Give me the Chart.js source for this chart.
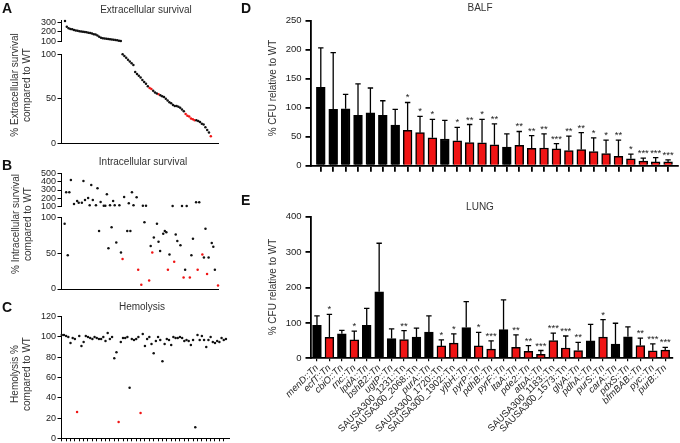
<!DOCTYPE html>
<html>
<head>
<meta charset="utf-8">
<script src="https://cdn.jsdelivr.net/npm/chart.js@4.4.1/dist/chart.umd.min.js"></script>
<style>
body{margin:0;background:#fff}
#fig{position:relative;width:680px;height:443px;overflow:hidden;background:#fff;font-family:"Liberation Sans",Arial,sans-serif;color:#333}
#fig canvas{position:absolute;left:0;top:0}
.t{position:absolute;white-space:nowrap;font-size:10px;line-height:12px;transform:translate(-50%,-50%)}
.v{transform:translate(-50%,-50%) rotate(-90deg);text-align:center}
.p{position:absolute;font-weight:bold;font-size:14px;line-height:14px;color:#111}
</style>
</head>
<body>
<div id="fig">
<canvas id="aTop" width="680" height="443"></canvas>
<canvas id="aBot" width="680" height="443"></canvas>
<canvas id="bTop" width="680" height="443"></canvas>
<canvas id="bBot" width="680" height="443"></canvas>
<canvas id="cHem" width="680" height="443"></canvas>
<canvas id="dBalf" width="680" height="443"></canvas>
<canvas id="eLung" width="680" height="443"></canvas>

<div class="p" style="left:2px;top:1px">A</div>
<div class="p" style="left:2px;top:158px">B</div>
<div class="p" style="left:2px;top:300px">C</div>
<div class="p" style="left:241px;top:1px">D</div>
<div class="p" style="left:241px;top:193px">E</div>

<div class="t" style="left:146px;top:10px">Extracellular survival</div>
<div class="t" style="left:143px;top:162px">Intracellular survival</div>
<div class="t" style="left:142px;top:307px">Hemolysis</div>
<div class="t" style="left:480px;top:8px">BALF</div>
<div class="t" style="left:480px;top:207px">LUNG</div>

<div class="t v" style="left:21px;top:85px">% Extracellular survival<br>compared to WT</div>
<div class="t v" style="left:22px;top:224px">% Intracellular survival<br>compared to WT</div>
<div class="t v" style="left:21px;top:374px">Hemolysis %<br>compared to WT</div>
<div class="t v" style="left:273px;top:88px">% CFU relative to WT</div>
<div class="t v" style="left:273px;top:287px">% CFU relative to WT</div>
</div>

<script>
// A: extracellular survival, mutants ranked high -> low
var extraSurvival = [318, 257, 240, 232, 228, 222, 216, 212, 208, 205, 202, 199, 196, 192, 188, 183,
    177, 172, 162, 148, 138, 134, 130, 127, 124, 121, 119, 116, 113, 110, 107, 104,
    100, 98, 96, 94, 92, 90, 88, 80, 78, 76, 74, 71, 69, 67, 64, 62, 61, 59, 57, 56, 55,
    54, 53, 52, 50, 48, 46, 45, 43, 42, 42, 41, 40, 38, 36, 33, 31, 30, 28, 27, 26,
    26, 25, 24, 22, 21, 18, 15, 12, 8];
var extraHit = [47, 48, 52, 67, 68, 69, 70, 71, 72, 81];

// B: intracellular survival (mutant position, % of WT, selected mutant)
var intraRank = [2, 3, 4, 5, 6, 8, 10, 11, 13, 14, 15, 17, 18, 19, 20, 22, 23, 24, 25, 27, 28, 29, 30, 31,
    32, 33, 34, 35, 37, 38, 39, 40, 42, 43, 44, 45, 46, 48, 49, 51, 52, 53, 54, 56, 57, 58,
    59, 61, 62, 63, 65, 66, 67, 68, 69, 71, 72, 73, 74, 76, 77, 78, 79, 80, 82, 83, 84, 86,
    87, 88, 90, 91, 92, 93, 94, 96, 97, 98, 100];
var intraSurvival = [91, 272, 47, 272, 420, 132, 168, 148, 148, 408, 180, 204, 116, 360, 180, 116, 320, 81, 156, 112,
    112, 248, 57, 116, 86, 168, 116, 65, 116, 51, 42, 216, 81, 140, 81, 272, 116, 212, 27, 6,
    112, 93, 112, 12, 60, 51, 72, 91, 66, 53, 77, 81, 79, 27, 48, 108, 38, 76, 67, 61, 108,
    16, 27, 108, 16, 47, 70, 152, 27, 152, 48, 44, 84, 21, 44, 64, 59, 27, 5];
var intraHit = [0, 0, 0, 0, 0, 0, 0, 0, 0, 0, 0, 0, 0, 0, 0, 0, 0, 0, 0, 0,
    0, 0, 0, 0, 0, 0, 0, 0, 0, 0, 1, 0, 0, 0, 0, 0, 0, 0, 1, 1,
    0, 0, 0, 1, 0, 1, 0, 0, 0, 0, 0, 0, 0, 1, 0, 0, 1, 0, 0, 0, 0,
    1, 0, 0, 1, 0, 0, 0, 1, 0, 1, 0, 0, 1, 0, 0, 0, 0, 1];

// C: hemolysis
var hemolysis = [102, 102, 101, 100, 94, 99, 98, 26, 101, 91, 95, 101, 100, 99, 98, 100, 99, 98, 98, 100,
    96, 104, 98, 100, 79, 85, 16, 95, 99, 99, 100, 50, 98, 97, 98, 100, 25, 103, 91, 98,
    100, 93, 84, 96, 100, 97, 76, 93, 98, 97, 92, 100, 99, 99, 100, 99, 96, 97, 96, 92,
    97, 11, 102, 97, 101, 97, 90, 97, 100, 95, 94, 96, 95, 99, 97, 98];
var hemoHit = [7, 26, 36];

// D: BALF, sorted
var balfMean = [135, 97, 98, 87, 91, 87, 70, 61, 57, 48, 46, 43, 40, 39.5, 36, 32, 35, 30, 30.5, 29,
    26, 28, 24.5, 21, 16, 12, 8, 6.5, 6.5];
var balfSD = [68, 98, 25, 54, 43, 25, 27, 48, 28, 32, 32, 23, 31, 40.5, 36, 23, 24, 22, 24.5, 9,
    25, 29, 23.5, 23, 28, 8, 5, 7.5, 3.5];
var balfSig = ['', '', '', '', '', '', '', '*', '*', '*', '', '*', '**', '*', '**', '', '**', '**', '**', '***',
    '**', '**', '*', '*', '**', '*', '***', '***', '***'];

// E: lung
var genes = ['menD::Tn', 'ecfT::Tn', 'cbiO::Tn', 'rnc::Tn', 'lpdA::Tn', 'bshB2::Tn', 'ugtP::Tn',
    'SAUSA300_1231::Tn', 'SAUSA300_2068::Tn', 'purA::Tn', 'SAUSA300_1720::Tn', 'SAUSA300_1902::Tn',
    'yjbH::Tn', 'pyrP::Tn', 'pdhB::Tn', 'pyrF::Tn', 'ltaA::Tn', 'pde2::Tn', 'atpA::Tn',
    'SAUSA300_1183::Tn', 'SAUSA300_1573::Tn', 'glyA::Tn', 'pdhA::Tn', 'purS::Tn', 'carA::Tn',
    'pdxS::Tn', 'bfmBAB::Tn', 'pyc::Tn', 'purB::Tn'];
var lungMean = [93, 59, 69, 52, 93, 188, 56, 53, 60, 74, 35, 43, 87, 35, 26, 81, 31, 20, 11, 50,
    29, 22, 49, 60, 40, 61, 36, 21, 23];
var lungSD = [27, 65, 10, 25, 48, 137, 27, 25, 25, 46, 17, 26, 73, 38, 23, 84, 35, 16, 11, 21,
    34, 23, 47, 49, 59, 28, 21, 20, 8];
var lungSig = ['', '*', '', '*', '', '', '', '**', '', '', '*', '*', '', '*', '***', '', '**', '**', '***', '***',
    '***', '**', '', '*', '', '', '**', '***', '***'];

var RED = '#f01414';
Chart.defaults.font.family = '"Liberation Sans", Arial, sans-serif';
Chart.defaults.color = '#222';

// chart area given in page pixels -> layout padding for a full-page canvas
function frame(box, yW, xH) {
    return {left: box[0] - yW, top: box[1], right: 680 - box[2], bottom: 443 - box[3] - xH};
}
function fixY(w) {
    return function (s) { s.width = w; s.paddingTop = 0; s.paddingBottom = 0; };
}
function fixX(h) {
    return function (s) { s.height = h; s.paddingLeft = 0; s.paddingRight = 0; };
}
function tickList(vals) {
    return function (s) { s.ticks = vals.map(function (v) { return {value: v}; }); };
}
function range(n, step) {
    var out = [];
    for (var i = 0; i < n; i += step) out.push(i);
    return out;
}

function yAxis(min, max, ticks, size, tl, lw, pad) {
    return {
        min: min, max: max,
        afterFit: fixY(40),
        afterBuildTicks: tickList(ticks),
        border: {display: true, color: '#000', width: lw},
        grid: {drawOnChartArea: false, color: '#000', lineWidth: lw, tickLength: tl},
        ticks: {font: {size: size}, padding: pad, color: '#222', autoSkip: false}
    };
}

function dotChart(id, pts, box, xr, yr, yTicks, showX, xTicks) {
    var black = pts.filter(function (p) { return !p.hit; });
    var red = pts.filter(function (p) { return p.hit; });
    new Chart(document.getElementById(id), {
        type: 'scatter',
        data: {datasets: [
            {data: black, pointRadius: 1.25, pointBackgroundColor: '#111', pointBorderWidth: 0, clip: false},
            {data: red, pointRadius: 1.25, pointBackgroundColor: RED, pointBorderWidth: 0, clip: false}
        ]},
        options: {
            responsive: false, animation: false, events: [],
            layout: {padding: frame(box, 40, showX ? 8 : 0)},
            plugins: {legend: {display: false}, tooltip: {enabled: false}},
            scales: {
                x: {
                    type: 'linear', min: xr[0], max: xr[1], display: showX,
                    afterFit: fixX(showX ? 8 : 0),
                    afterBuildTicks: tickList(xTicks || []),
                    border: {display: true, color: '#000', width: 1},
                    grid: {display: !!xTicks, drawOnChartArea: false, color: '#000', tickLength: 3},
                    ticks: {display: false}
                },
                y: yAxis(yr[0], yr[1], yTicks, 9, 4, 1, 1.5)
            }
        }
    });
}

// error bars + significance stars drawn from the y scale
var errPlugin = {
    id: 'errbars',
    afterDatasetsDraw: function (chart, args, opts) {
        var ctx = chart.ctx, ys = chart.scales.y;
        var ds = chart.data.datasets[0];
        var meta = chart.getDatasetMeta(0);
        ctx.save();
        ctx.strokeStyle = '#000';
        ctx.lineWidth = 1.3;
        ctx.fillStyle = '#222';
        ctx.font = '9.5px "Liberation Sans", Arial, sans-serif';
        ctx.textAlign = 'center';
        meta.data.forEach(function (bar, i) {
            var top = ys.getPixelForValue(ds.data[i].y + opts.sd[i]);
            ctx.beginPath();
            ctx.moveTo(bar.x, bar.y);
            ctx.lineTo(bar.x, top);
            ctx.moveTo(bar.x - 2.7, top);
            ctx.lineTo(bar.x + 2.7, top);
            ctx.stroke();
            if (opts.sig[i]) ctx.fillText(opts.sig[i], bar.x, top - 2);
        });
        ctx.restore();
    }
};

function barChart(id, mean, sd, sig, box, xr, yMax, yStep, labels) {
    var yt = [];
    for (var v = 0; v <= yMax; v += yStep) yt.push(v);
    new Chart(document.getElementById(id), {
        type: 'bar',
        data: {datasets: [{
            data: mean.map(function (m, i) { return {x: i, y: m}; }),
            backgroundColor: sig.map(function (s) { return s ? RED : '#000'; }),
            borderColor: '#000', borderWidth: 1.5, barThickness: 8.8
        }]},
        options: {
            responsive: false, animation: false, events: [],
            layout: {padding: frame(box, 40, labels ? 84 : 10)},
            plugins: {legend: {display: false}, tooltip: {enabled: false}, errbars: {sd: sd, sig: sig}},
            scales: {
                x: {
                    type: 'linear', min: xr[0], max: xr[1], offset: false,
                    afterFit: fixX(labels ? 84 : 10),
                    afterBuildTicks: tickList(range(mean.length, 1)),
                    border: {display: true, color: '#000', width: 1.8},
                    grid: {offset: false, drawOnChartArea: false, color: '#000',
                        lineWidth: labels ? 1.2 : 1.8, tickLength: labels ? 3 : 6},
                    ticks: {
                        display: !!labels, autoSkip: false, minRotation: 45, maxRotation: 45, padding: 1,
                        color: '#222',
                        font: function (c) {
                            var name = labels ? labels[c.index] || '' : '';
                            return {size: 9.5, style: name.indexOf('SAUSA') === 0 ? 'normal' : 'italic'};
                        },
                        callback: function (val) { return labels ? labels[val] : ''; }
                    }
                },
                y: yAxis(0, yMax, yt, 9.5, 5.5, 1.8, 4)
            }
        },
        plugins: [errPlugin]
    });
}

// A
var aPts = extraSurvival.map(function (v, i) { return {x: i, y: v, hit: extraHit.indexOf(i) >= 0}; });
dotChart('aTop', aPts.filter(function (p) { return p.y > 100; }), [61.5, 20.8, 218, 41.3],
    [-1.94, 85], [100, 320], [100, 200, 300], false);
dotChart('aBot', aPts.filter(function (p) { return p.y <= 100; }), [61.5, 54.3, 218, 143.3],
    [-1.94, 85], [0, 100], [0, 50, 100], true);

// B
var bPts = intraRank.map(function (r, i) { return {x: r, y: intraSurvival[i], hit: intraHit[i] === 1}; });
dotChart('bTop', bPts.filter(function (p) { return p.y > 100; }), [61.5, 173.3, 218, 206.7],
    [0, 100], [100, 500], [100, 200, 300, 400, 500], false);
dotChart('bBot', bPts.filter(function (p) { return p.y <= 100; }), [61.5, 217.3, 218, 289],
    [0, 100], [0, 100], [0, 50, 100], true);

// C
var cPts = hemolysis.map(function (v, i) { return {x: i, y: v, hit: hemoHit.indexOf(i) >= 0}; });
dotChart('cHem', cPts, [61.5, 316.7, 229, 438.3], [-0.1, 76.4], [0, 120],
    [0, 20, 40, 60, 80, 100, 120], true, range(hemolysis.length, 2));

// D, E
barChart('dBalf', balfMean, balfSD, balfSig, [311, 20.7, 678, 165.7], [-0.79, 28.8], 250, 50, null);
barChart('eLung', lungMean, lungSD, lungSig, [311, 216.7, 672.7, 358.3], [-0.48, 28.6], 400, 100, genes);
</script>
</body>
</html>
